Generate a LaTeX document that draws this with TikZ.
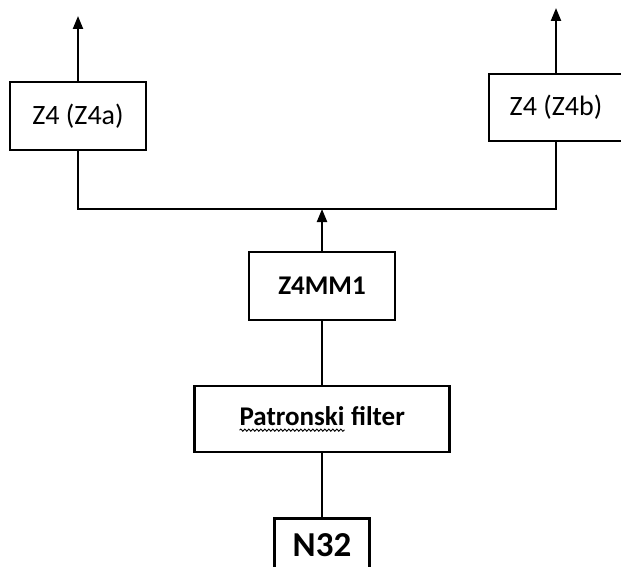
\documentclass[tikz,border=0pt]{standalone}
\usepackage{fontspec}
\setmainfont{Carlito}
\usetikzlibrary{arrows.meta,positioning,decorations.pathmorphing}

% spell-check wave under a word
\newcommand{\wavyword}[1]{\tikz[baseline=(w.base)]{\node[draw=none, inner sep=0pt, outer sep=0pt, minimum width=0pt, minimum height=0pt] (w) {#1};
  \draw[decorate, decoration={snake, amplitude=1.1pt, segment length=4pt}, line width=0.9pt]
    ([yshift=-4.5pt]w.base west) -- ([yshift=-4.5pt]w.base east);}}

\begin{document}
\begin{tikzpicture}[
    x=1pt, y=1pt,
    node distance=64pt,
    box/.style={draw, line width=2.2pt, rectangle, inner sep=0pt, minimum height=68pt},
    label/.style={font=\fontsize{28}{32}\selectfont},
    title/.style={font=\fontsize{27}{32}\selectfont\bfseries},
    arrow/.style={-{Triangle[length=13pt,width=10pt]}, line width=2.2pt},
    link/.style={line width=2.2pt}
]
\useasboundingbox (0,0) rectangle (621,-567);
\clip (0,0) rectangle (621,-567);

% Outputs
\node[box, label, minimum width=136pt] (Z4a) at (78,-116) {Z4 (Z4a)};
\node[box, label, minimum width=134pt, minimum height=67pt] (Z4b) at (556,-107.5) {Z4 (Z4b)};

% Main line
\node[box, title, minimum width=146pt] (Z4MM1) at (322,-286) {Z4MM1};
\node[box, title, minimum width=255pt, minimum height=66pt] (filter) [below=of Z4MM1] {\wavyword{Patronski} filter};
\node[box, font=\fontsize{35}{40}\selectfont\bfseries, minimum width=95pt, minimum height=54pt] (N32) [below=of filter] {N32};

\coordinate (outa) at (78,-16);
\coordinate (outb) at (556,-8);
\coordinate (junc) at (322,-209);

% Outgoing arrows
\draw[arrow] (Z4a.north) -- (outa);
\draw[arrow] (Z4b.north) -- (outb);

% Splitting line
\draw[link] (Z4a.south) -- (Z4a.south |- junc) -- (Z4b.south |- junc) -- (Z4b.south);
\draw[arrow] (Z4MM1.north) -- (junc);

% Feed
\draw[link] (filter) -- (Z4MM1);
\draw[link] (N32) -- (filter);

\end{tikzpicture}
\end{document}
